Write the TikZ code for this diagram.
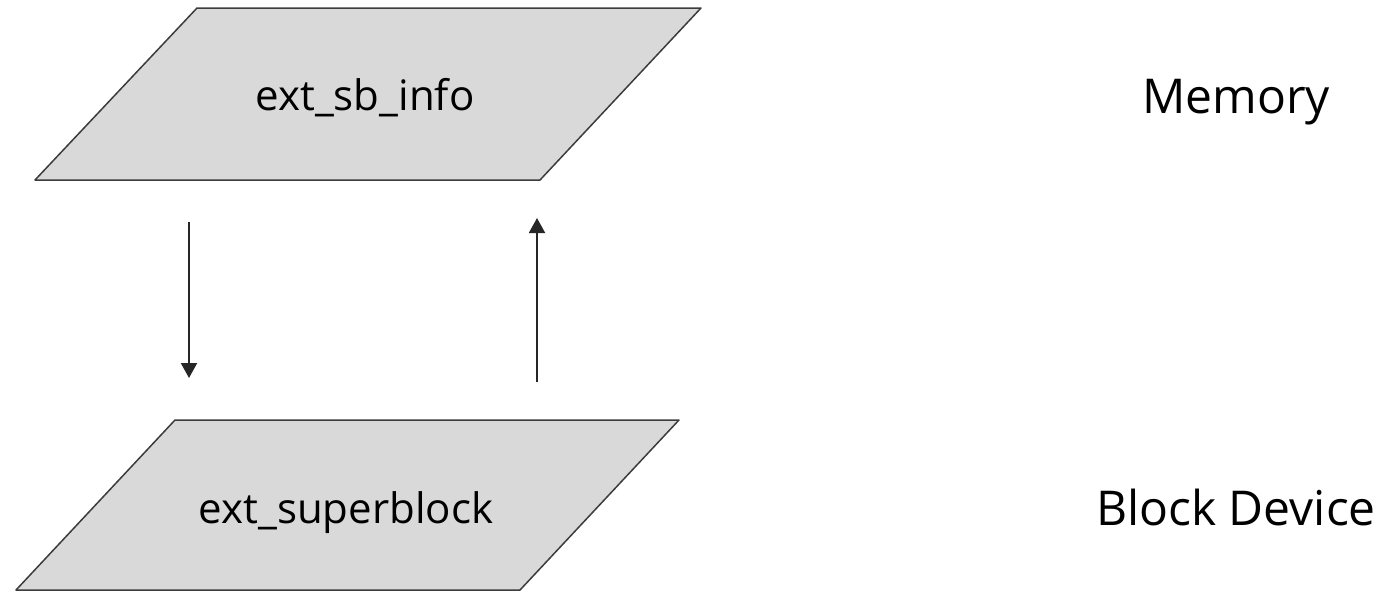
\documentclass[tikz,border=0pt]{standalone}
\usepackage{fontspec}
\setmainfont{Open Sans}
\usepackage{xcolor}
\usetikzlibrary{arrows.meta}

\definecolor{slabfill}{HTML}{D9D9D9}
\definecolor{slabline}{HTML}{3C3C3C}
\definecolor{flowline}{HTML}{262626}

\begin{document}
\begin{tikzpicture}[x=0.5pt, y=-0.5pt,
    slab/.style={fill=slabfill, draw=slabline, line width=0.75pt, line join=round},
    slabtext/.style={anchor=base, font=\fontsize{21}{25}\selectfont},
    layer/.style={anchor=base, font=\fontsize{24}{29}\selectfont},
    flow/.style={draw=flowline, line width=1pt, -{Triangle[width=8pt, length=7.5pt]}}]
    \useasboundingbox (0,0) rectangle (1384,591);

    % Structure en memoire
    \draw[slab] (197,8) -- (701,8) -- (540,180) -- (35,180) -- cycle;
    \node[slabtext] (info) at (365,110) {ext\_sb\_info};

    % Structure sur disque
    \draw[slab] (175,420) -- (679,420) -- (520,590) -- (16,590) -- cycle;
    \node[slabtext] (sb) at (346,523) {ext\_superblock};

    % Labels
    \node[layer] (mem) at (1236,113) {Memory};
    \node[layer] (dev) at (1236,525) {Block Device};

    % Fleches
    \coordinate (readtop) at (189,222);
    \coordinate (readbot) at (189,378);
    \coordinate (writebot) at (537,382);
    \coordinate (writetop) at (537,218);
    \draw[flow] (readtop) -- (readbot);
    \draw[flow] (writebot) -- (writetop);

\end{tikzpicture}
\end{document}
